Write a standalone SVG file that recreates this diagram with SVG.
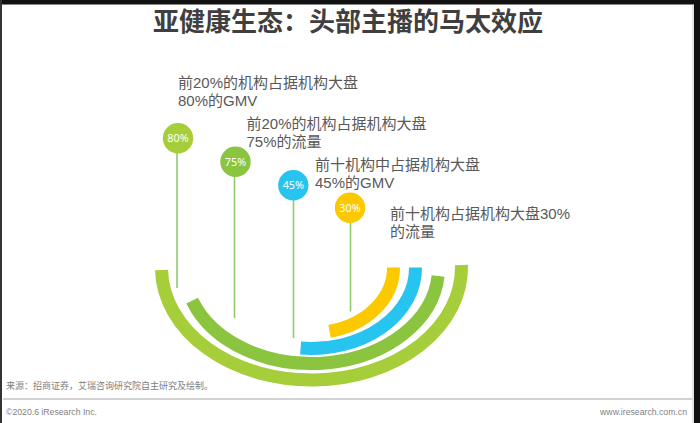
<svg xmlns="http://www.w3.org/2000/svg" width="700" height="423" viewBox="0 0 700 423">
<style>
.title{font-family:"Noto Sans CJK SC","Noto Sans",sans-serif;font-size:26px;font-weight:700;fill:#3f3f3f}
.lbl{font-family:"Liberation Sans","Noto Sans CJK SC",sans-serif;font-size:15px;fill:#595959}
.pct{font-family:"Noto Sans","Open Sans",sans-serif;font-size:10.8px;fill:#ffffff;text-anchor:middle}
.ring{fill:none;stroke-width:13;stroke-linecap:butt}
.conn{stroke:#8fcb6f;stroke-width:1.6;fill:none}
.src{font-family:"Noto Sans CJK SC","Noto Sans",sans-serif;font-size:9px;fill:#808080}
.foot{font-family:"Liberation Sans",Arial,sans-serif;font-size:8.7px;fill:#7f7f7f}
.c1{fill:#a6cd3a}
.c2{fill:#8bc43f}
.c3{fill:#27c4ef}
.c4{fill:#fcc800}
</style>
<rect x="0" y="0" width="700" height="423" fill="#ffffff"/>
<rect x="0" y="0" width="700" height="4.5" fill="#111111"/>
<rect x="0" y="0" width="2" height="423" fill="#333333"/>
<rect x="694" y="0" width="6" height="423" fill="#111111"/>
<line x1="693" y1="4.5" x2="693" y2="423" stroke="#c8c8c8" stroke-width="1"/>

<text class="title" x="153" y="31">亚健康生态：头部主播的马太效应</text>

<g id="arcs">
<path class="ring" style="stroke:#a6cd3a" d="M161.5,269.96 A150,112.5 0 1,0 461.45,265.06"/>
<path class="ring" style="stroke:#8bc43f" d="M192.16,300.66 A127,95.5 0 0,0 438.06,275.96"/>
<path class="ring" style="stroke:#27c4ef" d="M300.63,348.06 A104,80.5 0 0,0 415.5,267.44"/>
<path class="ring" style="stroke:#fcc800" d="M329.52,331.41 A82,65 0 0,0 393.5,267.55"/>
</g>

<g id="connectors">
<line class="conn" x1="177" y1="153" x2="177" y2="288"/>
<line class="conn" x1="234.5" y1="176.5" x2="234.5" y2="318"/>
<line class="conn" x1="293.5" y1="200" x2="293.5" y2="338"/>
<line class="conn" x1="350.5" y1="222.5" x2="350.5" y2="311.5"/>
</g>

<g id="node-80">
<circle class="c1" cx="178" cy="138.3" r="15.2"/>
<text class="pct" x="178" y="142.1">80%</text>
<text class="lbl" x="178" y="88">前20%的机构占据机构大盘<tspan x="178" dy="18">80%的GMV</tspan></text>
</g>
<g id="node-75">
<circle class="c2" cx="235.5" cy="161.7" r="15.2"/>
<text class="pct" x="235.5" y="165.5">75%</text>
<text class="lbl" x="246.5" y="129">前20%的机构占据机构大盘<tspan x="246.5" dy="17.5">75%的流量</tspan></text>
</g>
<g id="node-45">
<circle class="c3" cx="293.3" cy="185.3" r="15.2"/>
<text class="pct" x="293.3" y="189.1">45%</text>
<text class="lbl" x="315" y="169.5">前十机构中占据机构大盘<tspan x="315" dy="18.5">45%的GMV</tspan></text>
</g>
<g id="node-30">
<circle class="c4" cx="350" cy="207.7" r="15.2"/>
<text class="pct" x="350" y="211.5">30%</text>
<text class="lbl" x="390" y="219">前十机构占据机构大盘30%<tspan x="390" dy="17.5">的流量</tspan></text>
</g>

<g id="footer">
<text class="src" x="6" y="388.5">来源：招商证券，艾瑞咨询研究院自主研究及绘制。</text>
<line x1="3" y1="399" x2="692" y2="399" stroke="#a6a6a6" stroke-width="1"/>
<text class="foot" x="6" y="414.5">©2020.6 iResearch Inc.</text>
<text class="foot" x="687" y="414.5" text-anchor="end">www.iresearch.com.cn</text>
</g>
</svg>
